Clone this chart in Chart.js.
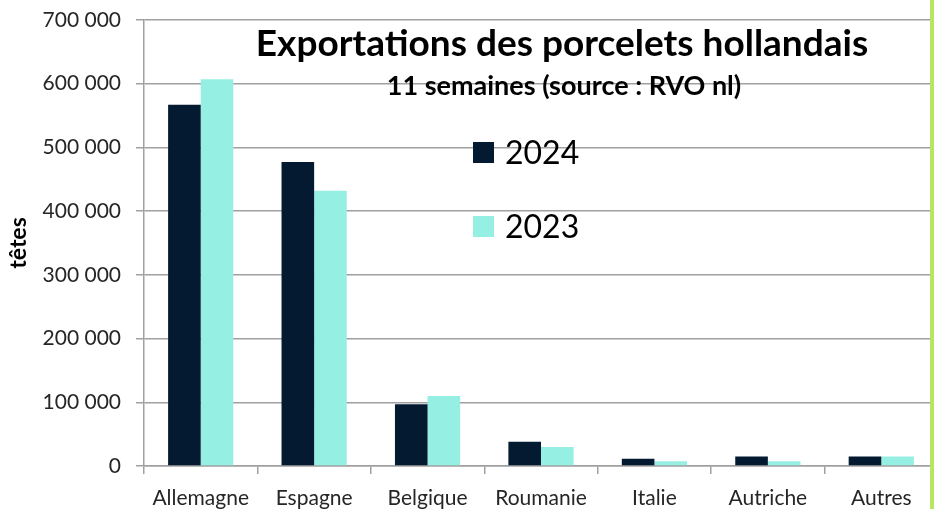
<!DOCTYPE html>
<html>
<head>
<meta charset="utf-8">
<script src="https://cdn.jsdelivr.net/npm/chart.js@4"></script>
<style>
  html, body { margin: 0; padding: 0; background: #fff; overflow: hidden; }
  #wrap { position: absolute; left: 0; top: 0; width: 938px; height: 509px; }
  #edge { position: absolute; left: 930px; top: 0; width: 4px; height: 509px; background: #b6e764; }
</style>
</head>
<body>
<div id="wrap"><canvas id="exportChart"></canvas></div>
<div id="edge"></div>
<script>
// data
const categories = ['Allemagne', 'Espagne', 'Belgique', 'Roumanie', 'Italie', 'Autriche', 'Autres'];
const values2024 = [567000, 477000, 97000, 38000, 11500, 15000, 15000];
const values2023 = [607000, 432000, 110000, 30000, 7500, 7500, 15000];
const seriesLabels = ['2024', '2023'];
const seriesColors = ['#031a31', '#96efe3'];
const yMax = 700000;
const yStep = 100000;
const titleText = 'Exportations des porcelets hollandais';
const subtitleText = '11 semaines (source : RVO nl)';
const yAxisTitle = 'têtes';

function formatThousands(v) {
    return String(v).replace(/\B(?=(\d{3})+(?!\d))/g, ' ');
}

// title + legend drawn inside the plot, on top of the gridlines
const overlayPlugin = {
    id: 'overlay',
    afterDraw: function(chart) {
        const ctx = chart.ctx;
        ctx.save();
        ctx.fillStyle = '#000';
        ctx.textAlign = 'center';
        ctx.textBaseline = 'alphabetic';
        ctx.font = 'bold 37px Lato';
        ctx.fillText(titleText, 562, 56);
        ctx.font = 'bold 27px Lato';
        ctx.fillText(subtitleText, 564, 95);

        // legend
        ctx.textAlign = 'left';
        ctx.font = '32px Lato';
        const rows = [152, 226];
        chart.data.datasets.forEach(function(ds, i) {
            const cy = rows[i];
            ctx.fillStyle = ds.backgroundColor;
            ctx.fillRect(473, cy - 10, 21, 21);
            ctx.fillStyle = '#000';
            ctx.fillText(ds.label, 505, cy + 12);
        });
        ctx.restore();
    }
};

document.addEventListener('DOMContentLoaded', function() {
    const ctx = document.getElementById('exportChart').getContext('2d');
    new Chart(ctx, {
        type: 'bar',
        data: {
            labels: categories,
            datasets: [{
                label: seriesLabels[0],
                data: values2024,
                backgroundColor: seriesColors[0],
                borderWidth: 0
            }, {
                label: seriesLabels[1],
                data: values2023,
                backgroundColor: seriesColors[1],
                borderWidth: 0
            }]
        },
        options: {
            responsive: true,
            maintainAspectRatio: false,
            animation: false,
            layout: { padding: { top: 20, right: 0, bottom: 0, left: 0 } },
            datasets: {
                bar: { categoryPercentage: 0.575, barPercentage: 1.0 }
            },
            plugins: {
                legend: { display: false },
                title: { display: false },
                tooltip: { enabled: false }
            },
            scales: {
                y: {
                    min: 0,
                    max: yMax,
                    afterFit: function(scale) {
                        scale.width = 144;
                        scale.paddingTop = 0;
                    },
                    border: { display: true, color: '#a0a0a0', width: 1.5 },
                    grid: { color: '#a0a0a0', lineWidth: 1.5, tickLength: 8 },
                    ticks: {
                        stepSize: yStep,
                        padding: 15,
                        color: '#262626',
                        font: { family: 'Lato', size: 21 },
                        callback: function(value) { return formatThousands(value); }
                    },
                    title: {
                        display: true,
                        text: yAxisTitle,
                        color: '#000',
                        font: { family: 'Lato', size: 23, weight: 'bold' },
                        padding: { top: 5, bottom: 0 }
                    }
                },
                x: {
                    afterFit: function(scale) { scale.height = 43; },
                    border: { display: true, color: '#a0a0a0', width: 1.5 },
                    grid: { drawOnChartArea: false, drawTicks: true, tickLength: 8, color: '#a0a0a0', lineWidth: 1.5 },
                    ticks: {
                        padding: 12,
                        color: '#262626',
                        font: { family: 'Lato', size: 21 }
                    }
                }
            }
        },
        plugins: [overlayPlugin]
    });
});
</script>
</body>
</html>
